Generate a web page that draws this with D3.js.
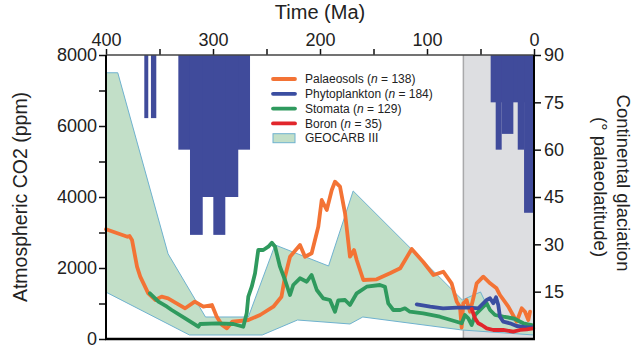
<!DOCTYPE html>
<html><head><meta charset="utf-8">
<script src="https://cdn.jsdelivr.net/npm/d3@7"></script>
<style>
body{margin:0;background:#fff;}
svg{display:block;font-family:"Liberation Sans",Arial,sans-serif;}
</style></head>
<body><svg id="c" width="640" height="352"></svg>
<script>
// ---- data (Ma, ppm) ----
const timeTicks = [400,300,200,100,0];
const timeMinor = [350,250,150,50];
const co2Ticks = [0,2000,4000,6000,8000];
const co2Minor = [1000,3000,5000,7000];
const latTicks = [15,30,45,60,75,90];

const geocarbUpper = [[400,7500],[389,7500],[342,2400],[307,620],[267,620],[242,2650],[192,2056],[169,4170],[67,1100],[50,1324],[41,760],[0,300]];
const geocarbLower = [[400,1320],[322,113],[254,113],[221,535],[172,423],[160,620],[67,253],[0,113]];

const palaeosols = [[400,3090],[380,2880],[378,2900],[375.7,2790],[371,2037],[368,1755],[360.5,1287],[354,1099],[348,1192],[342,1146],[334,1006],[326,865],[317,1051],[309,910],[301,958],[296.5,628],[291.6,394],[287,301],[282,487],[275,507],[267,535],[256,676],[243.6,910],[236,1192],[232.7,1755],[228,2318],[218.7,2648],[214,2318],[207.8,2414],[201.6,3163],[198.4,3916],[193.7,3634],[189,4197],[186,4431],[181.3,4290],[176.6,3541],[172,2318],[168.2,2507],[165.7,2225],[159.5,1662],[147,1682],[134.6,1851],[125,1992],[114.3,2535],[103.5,2169],[94,1803],[84.8,1896],[77,1569],[72.2,1051],[69.2,910],[67.6,324],[66.1,1006],[63,1099],[59.8,769],[56.7,1146],[53.6,1569],[47.4,1755],[41,1569],[35,1428],[31.8,1239],[24,910],[16.2,487],[11.5,865],[8.4,769],[5.3,535],[3.7,769]];

const phytoplankton = [[109.6,977],[97,910],[85,865],[72,882],[60,882],[52,865],[47.4,1006],[44.2,1099],[41.1,1146],[38,1006],[35.5,1175],[33.4,958],[31.8,628],[28.7,487],[22.4,442],[16.2,366],[6.8,330],[0.7,330]];

const stomata = [[359,1287],[351,1051],[343,910],[338.6,817],[326,583],[313.7,346],[312,423],[296.5,442],[281,423],[271.7,346],[268.5,724],[267,1192],[263.8,1473],[260.7,1851],[257.7,2507],[253,2507],[248.3,2600],[245,2713],[242,2600],[237.4,2037],[232.7,1662],[229.6,1380],[228,1239],[225,1521],[218.7,1710],[212.4,1614],[207.8,1803],[203,1380],[197,1146],[190.7,1099],[186,769],[183,1085],[176.6,1099],[172,958],[165.7,1287],[156.4,1473],[144,1521],[139.3,1473],[136.2,1006],[131.5,817],[125,817],[120.6,865],[116,769],[103.5,724],[88,628],[72.2,487],[67.6,442],[64.5,676],[61.4,583],[58.2,394],[55.1,676],[52.1,769],[47.4,910],[44.2,1006],[41.1,817],[36.4,676],[28.7,628],[19.3,583],[10,442],[2,394]];

const boron = [[58.2,845],[55.1,583],[52.1,442],[48.9,394],[44.2,301],[38,254],[28.7,254],[19.3,206],[13.1,254],[6.8,273],[0.7,301]];

// glaciation bars: [startMa, endMa, palaeolatitude reached]
const glaciation = [[364.2,360.5,70],[358,353,70],[332.4,265.4,60],[321.5,276.4,45],[321.5,309.6,33],[299.7,288.5,33],[40.5,0,75],[35.8,30.2,60],[30.2,19.3,65],[15.2,9.3,60],[9.3,0,40]];
const cenozoicBox = [66,0];

const legendItems = [
  {name:"Palaeosols", n:"138", color:"#f37335"},
  {name:"Phytoplankton", n:"184", color:"#3b4ea1"},
  {name:"Stomata", n:"129", color:"#2f9a5e"},
  {name:"Boron", n:"35", color:"#e1262c"}
];

// ---- drawing ----
const svg = d3.select("#c");
const x = d3.scaleLinear().domain([400,0]).range([106,534]);
const y = d3.scaleLinear().domain([0,8000]).range([339,55]);
const yLat = d3.scaleLinear().domain([0,90]).range([339,55]);
const txt = "#222";

// gray Cenozoic box
svg.append("rect").attr("x",x(cenozoicBox[0])).attr("y",y(8000))
  .attr("width",x(cenozoicBox[1])-x(cenozoicBox[0])).attr("height",y(0)-y(8000))
  .attr("fill","#dddee1");
svg.append("line").attr("x1",x(cenozoicBox[0])).attr("x2",x(cenozoicBox[0]))
  .attr("y1",y(8000)).attr("y2",y(0)).attr("stroke","#a9a9ab").attr("stroke-width",1.5);

// GEOCARB band
const poly = geocarbUpper.concat(geocarbLower.slice().reverse());
const lineGen = d3.line().x(d=>x(d[0])).y(d=>y(d[1]));
svg.append("path").attr("d",lineGen(poly)+"Z")
  .attr("fill","#c2dfc8").attr("stroke","#6fb2cf").attr("stroke-width",1);

// glaciation bars
svg.selectAll("rect.gl").data(glaciation).enter().append("rect")
  .attr("x",d=>x(d[0])).attr("width",d=>x(d[1])-x(d[0]))
  .attr("y",yLat(90)).attr("height",d=>yLat(d[2])-yLat(90))
  .attr("fill","#404b9b");

// series lines
const curve = d3.line().x(d=>x(d[0])).y(d=>y(d[1]));
[[palaeosols,"#f37335"],[stomata,"#2f9a5e"],[phytoplankton,"#3b4ea1"],[boron,"#e1262c"]].forEach(([data,col])=>{
  svg.append("path").attr("d",curve(data)).attr("fill","none").attr("stroke",col)
    .attr("stroke-width",3.8).attr("stroke-linejoin","round").attr("stroke-linecap","round");
});

// axes
function styleAxis(g, fs){
  g.selectAll("text").attr("font-size",fs).attr("fill",txt).attr("font-family","Liberation Sans, Arial, sans-serif");
  g.selectAll("line").attr("stroke","#111").attr("stroke-width",1.5);
}
const topAx = svg.append("g").attr("transform",`translate(0,${y(8000)})`)
  .call(d3.axisTop(x).tickValues(timeTicks).tickFormat(d3.format("d")).tickSize(6).tickPadding(3));
topAx.select(".domain").remove();
styleAxis(topAx,18);
const topMinor = svg.append("g").attr("transform",`translate(0,${y(8000)})`)
  .call(d3.axisTop(x).tickValues(timeMinor).tickFormat("").tickSize(6));
topMinor.select(".domain").remove();
styleAxis(topMinor,18);
svg.append("line").attr("x1",x(400)).attr("x2",x(0)).attr("y1",y(8000)).attr("y2",y(8000))
  .attr("stroke","#444").attr("stroke-width",1.5);

const leftAx = svg.append("g").attr("transform",`translate(${x(400)},0)`)
  .call(d3.axisLeft(y).tickValues(co2Ticks).tickFormat(d3.format("d")).tickSize(7).tickPadding(2));
leftAx.select(".domain").remove();
styleAxis(leftAx,18);
const leftMinor = svg.append("g").attr("transform",`translate(${x(400)},0)`)
  .call(d3.axisLeft(y).tickValues(co2Minor).tickFormat("").tickSize(7));
leftMinor.select(".domain").remove();
styleAxis(leftMinor,18);

const rightAx = svg.append("g").attr("transform",`translate(${x(0)},0)`)
  .call(d3.axisRight(yLat).tickValues(latTicks).tickSize(7).tickPadding(3));
rightAx.select(".domain").remove();
styleAxis(rightAx,18);

// frame lines
svg.append("line").attr("x1",x(400)).attr("x2",x(400)).attr("y1",y(8000)).attr("y2",y(0)+1).attr("stroke","#000").attr("stroke-width",2);
svg.append("line").attr("x1",x(0)).attr("x2",x(0)).attr("y1",y(8000)).attr("y2",y(0)+1).attr("stroke","#000").attr("stroke-width",2);
svg.append("line").attr("x1",x(400)-1).attr("x2",x(0)+1).attr("y1",y(0)).attr("y2",y(0)).attr("stroke","#000").attr("stroke-width",2.5);

// titles
svg.append("text").attr("x",(x(400)+x(0))/2).attr("y",19).attr("text-anchor","middle")
  .attr("font-size",20).attr("fill",txt).text("Time (Ma)");
svg.append("text").attr("transform","translate(27,197) rotate(-90)").attr("text-anchor","middle")
  .attr("font-size",19.5).attr("fill",txt).text("Atmospheric CO2 (ppm)");
svg.append("text").attr("transform","translate(617,183) rotate(90)").attr("text-anchor","middle")
  .attr("font-size",18.5).attr("fill",txt).text("Continental glaciation");
svg.append("text").attr("transform","translate(594,187) rotate(90)").attr("text-anchor","middle")
  .attr("font-size",18.5).attr("fill",txt).text("(\u00B0 palaeolatitude)");

// legend
const lg = svg.append("g");
legendItems.forEach((it,i)=>{
  const yy = 79 + i*14.8;
  lg.append("line").attr("x1",273).attr("x2",295).attr("y1",yy).attr("y2",yy)
    .attr("stroke",it.color).attr("stroke-width",3.8).attr("stroke-linecap","round");
  const t = lg.append("text").attr("x",305).attr("y",yy+4.2).attr("font-size",12).attr("fill",txt);
  t.append("tspan").text(it.name+" (");
  t.append("tspan").attr("font-style","italic").text("n");
  t.append("tspan").text(" = "+it.n+")");
});
const gy = 79 + 4*14.8;
lg.append("rect").attr("x",273).attr("y",gy-4.5).attr("width",22).attr("height",9)
  .attr("fill","#c2dfc8").attr("stroke","#6fb2cf").attr("stroke-width",1);
lg.append("text").attr("x",305).attr("y",gy+4.2).attr("font-size",12).attr("fill",txt).text("GEOCARB III");
</script></body></html>
